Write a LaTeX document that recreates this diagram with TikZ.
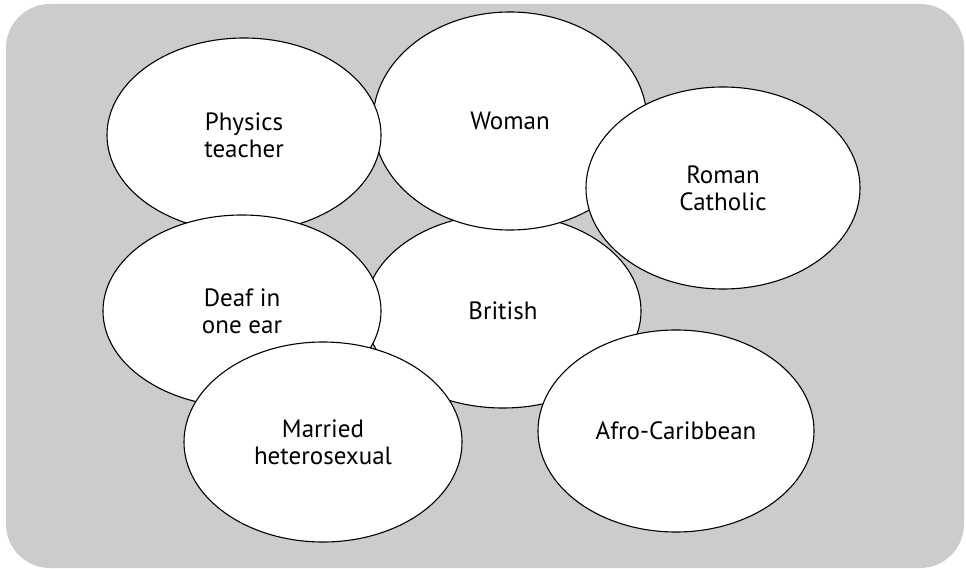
\documentclass[tikz,border=0pt]{standalone}
\usepackage{fontspec}
\setmainfont{PT Sans}
\usetikzlibrary{shapes.geometric}
\definecolor{panelgrey}{HTML}{CCCCCC}
\tikzset{
  trait/.style={ellipse, draw=black, line width=1.1pt, fill=white,
    inner sep=0pt, align=center,
    font=\fontsize{25}{27}\selectfont}
}
\begin{document}
\begin{tikzpicture}[x=1pt, y=-1pt]
  \useasboundingbox (0,0) rectangle (966,569);
  % grey panel
  \fill[panelgrey, rounded corners=44pt] (6,4) rectangle (964,568);
  % overlapping identity ellipses, back to front
  \node[trait, minimum width=276pt, minimum height=194pt] (british) at (503,311) {British};
  \node[trait, minimum width=274pt, minimum height=218pt] (woman) at (510,121) {Woman};
  \node[trait, minimum width=274pt, minimum height=194pt] (physics) at (244,135) {Physics\\teacher};
  \node[trait, minimum width=278pt, minimum height=192pt] (deaf) at (242,311) {Deaf in\\one ear};
  \node[trait, minimum width=278pt, minimum height=200pt] (married) at (323,442) {Married\\heterosexual};
  \node[trait, minimum width=274pt, minimum height=202pt] (catholic) at (723,188) {Roman\\Catholic};
  \node[trait, minimum width=276pt, minimum height=202pt] (afro) at (676,431) {Afro-Caribbean};
\end{tikzpicture}
\end{document}
